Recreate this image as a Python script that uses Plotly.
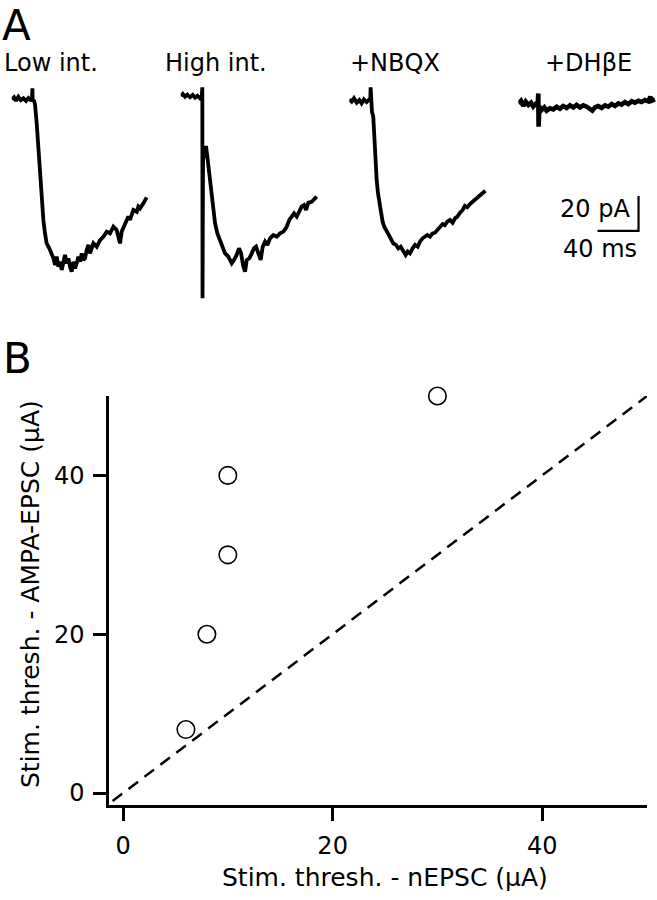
import plotly.graph_objects as go

# ---------------- data ----------------
# Panel A traces: time (ms) and current (pA)
LOW_T = [0, 2.3, 4.2, 6.5, 8.8, 11.4, 14.0, 16.3, 18.5, 19.8, 20.2, 20.5, 21.8, 22.8, 24.4, 26.0, 27.6, 29.3, 30.9, 32.5, 34.1,
         36.7, 39.0, 40.7, 42.3, 43.9, 45.5, 47.2, 48.8, 50.4, 52.0, 53.7, 55.3, 56.9, 58.5, 60.2, 61.8, 63.4, 65.0,
         66.7, 68.3, 69.9, 71.5, 73.2, 74.8, 76.4, 78.0, 79.7, 82.9, 86.2, 89.4, 92.7, 95.9, 99.2, 102.4, 104.1, 105.7,
         107.3, 108.9, 112.2, 113.8, 115.4, 117.1, 118.7, 122.0, 123.6, 125.2, 126.8, 128.5, 131.7]
LOW_I = [-0.2, 1.0, -1.0, 1.3, -0.6, 0.4, -1.1, 0.6, -0.6, -0.6, 6.1, -1.5, -0.6, -3.4, -13.9, -29.1, -44.4, -57.7, -69.1, -76.8, -82.5,
         -85.3, -88.2, -91.0, -94.9, -90.1, -95.8, -93.0, -97.7, -92.0, -89.1, -93.9, -91.0, -95.8, -98.7, -93.0, -96.8, -93.9, -90.1,
         -93.0, -88.2, -92.0, -91.0, -86.3, -83.4, -88.2, -85.3, -82.5, -84.4, -80.6, -78.7, -75.8, -76.8, -73.0, -74.9, -78.7, -82.5,
         -75.8, -73.9, -69.1, -67.2, -69.1, -65.3, -63.4, -64.4, -61.5, -62.5, -60.6, -59.6, -56.2]

HIGH_T = [0, 2.0, 4.2, 6.5, 9.1, 11.7, 14.0, 16.3, 18.9, 20.5, 21.1, 21.3, 21.8, 23.1, 24.7, 26.0, 27.6, 29.3, 31.2, 33.5,
          35.8, 38.4, 41.0, 43.3, 46.5, 49.8, 52.0, 54.6, 56.9, 58.9, 61.1, 62.8, 64.4, 67.0, 69.3, 71.5, 73.5, 75.8, 78.0, 80.0,
          82.3, 84.6, 87.2, 90.4, 93.7, 96.9, 100.2, 103.4, 106.0, 108.3, 110.6, 113.2, 115.8, 118.0, 120.3, 122.3, 124.6, 127.8,
          130.1, 132.7]
HIGH_I = [1.7, 2.9, 1.3, 2.5, 1.0, 2.3, 0.8, 1.9, 0.4, 1.3, 6.7, -113.9, -34.9, -30.1, -26.9, -33.0, -40.6, -50.1, -61.5, -71.0,
          -76.8, -80.6, -85.3, -88.2, -90.1, -93.9, -92.0, -89.1, -85.3, -88.2, -95.8, -98.7, -92.0, -91.0, -88.2, -85.3, -84.4,
          -89.1, -92.0, -84.4, -81.5, -83.4, -79.6, -77.7, -78.7, -76.8, -75.8, -73.0, -69.1, -67.2, -65.3, -67.2, -64.4, -61.5,
          -60.6, -63.4, -59.2, -58.7, -57.3, -55.8]

NBQX_T = [0, 2.3, 4.6, 7.2, 9.8, 12.0, 14.3, 16.9, 19.5, 20.5, 20.8, 21.1, 22.1, 23.4, 24.4, 25.4, 26.7, 28.0, 29.3, 30.9,
          32.5, 34.1, 36.4, 38.0, 40.3, 42.9, 45.5, 47.8, 50.1, 52.7, 55.0, 56.9, 59.2, 61.8, 64.1, 66.7, 68.9, 71.5, 73.8, 76.1,
          78.7, 81.3, 83.6, 85.9, 88.5, 91.1, 93.3, 95.6, 98.2, 100.8, 103.1, 105.4, 108.0, 110.6, 112.8, 115.1, 117.7, 120.3,
          122.6, 124.9, 127.5, 130.1, 132.7]
NBQX_I = [-0.2, -1.5, 0.4, -2.1, -0.6, -2.5, -0.2, -1.7, -0.2, -0.6, 6.7, -4.4, -7.2, -10.1, -23.4, -36.8, -46.3, -53.9, -59.6,
          -65.3, -70.1, -73.0, -74.9, -77.1, -79.6, -82.5, -83.4, -85.3, -84.4, -87.2, -89.1, -87.2, -88.2, -85.3, -83.4, -84.4,
          -81.5, -79.6, -78.7, -77.7, -78.7, -76.8, -76.4, -74.9, -73.9, -71.4, -72.0, -70.1, -69.1, -70.7, -68.2, -67.2, -65.0,
          -63.4, -61.1, -61.9, -60.0, -58.7, -57.7, -56.2, -55.4, -53.9, -52.4]

DHBE_T = [0, 2.6, 4.9, 7.2, 9.8, 12.4, 14.6, 16.9, 18.9, 19.5, 19.8, 20.5, 22.8, 25.4, 27.6, 30.9, 34.1, 37.4, 40.7, 43.9,
          47.2, 50.4, 53.7, 56.9, 60.2, 63.4, 66.7, 69.9, 72.2, 74.8, 78.0, 81.3, 84.6, 87.8, 91.1, 94.3, 97.6, 100.8, 104.1,
          107.3, 110.6, 113.8, 117.1, 120.3, 123.6, 126.8, 128.8, 130.1, 133.3]
DHBE_I = [-2.5, -1.0, -4.0, -1.5, -3.4, -2.1, -4.4, -2.9, -3.4, 3.2, -15.8, -4.4, -6.3, -4.8, -6.7, -5.3, -5.9, -4.4, -5.5, -4.0,
          -5.1, -3.6, -4.8, -3.4, -4.8, -3.6, -4.4, -5.9, -6.7, -4.8, -4.0, -5.1, -3.6, -4.4, -2.9, -4.0, -2.5, -3.2, -1.7,
          -2.9, -1.3, -2.1, -1.0, -1.7, -0.6, -1.3, 1.3, -1.0, -0.2]

TRACE_LABELS = ["Low int.", "High int.", "+NBQX", "+DH\u03b2E"]
SCALE_PA = 20
SCALE_MS = 40

# Panel B: stimulation thresholds (µA)
NEPSC = [6, 8, 10, 10, 30]
AMPA = [8, 20, 30, 40, 50]
DIAG = [-1, 50]
X_TICKS = [0, 20, 40]
Y_TICKS = [0, 20, 40]

# ---------------- layout helpers ----------------
W, H = 657, 900
FONT = "DejaVu Sans"


def fx(px):
    return px / W


def fy(py):
    return 1 - py / H


fig = go.Figure()

# ---- Panel A: four traces, each on its own x axis, shared y scale ----
traces = [(LOW_T, LOW_I), (HIGH_T, HIGH_I), (NBQX_T, NBQX_I), (DHBE_T, DHBE_I)]
starts_px = [11.7, 180.7, 349.3, 518.3]
px_per_ms = 1.025
t_range = [0, 135]
i_range = [-125, 10]
px_per_pa = 1.75
base_py = 99
y_dom = [fy(base_py - i_range[0] * px_per_pa), fy(base_py - i_range[1] * px_per_pa)]
widths = [3.8, 3.8, 3.8, 4.6]

for k, ((t, cur), x0) in enumerate(zip(traces, starts_px)):
    n = k + 2
    fig.add_trace(go.Scatter(x=t, y=cur, mode="lines", xaxis=f"x{n}", yaxis="y2",
                             line=dict(color="black", width=widths[k]), showlegend=False,
                             hoverinfo="skip", cliponaxis=False))
    fig.update_layout(**{
        f"xaxis{n}": dict(domain=[fx(x0), fx(x0 + (t_range[1] - t_range[0]) * px_per_ms)], range=t_range,
                          anchor="y2", visible=False, fixedrange=True, automargin=False)
    })

fig.update_layout(yaxis2=dict(domain=y_dom, range=i_range, anchor="x2", visible=False,
                              fixedrange=True, automargin=False))

# scale bar in last trace axis
sb_t_end = 117.3
sb_i_base = -75.4
fig.add_trace(go.Scatter(x=[sb_t_end - SCALE_MS, sb_t_end, sb_t_end],
                         y=[sb_i_base, sb_i_base, sb_i_base + SCALE_PA],
                         mode="lines", xaxis="x5", yaxis="y2",
                         line=dict(color="black", width=2.2), showlegend=False, hoverinfo="skip"))

# ---- Panel B: scatter ----
fig.add_trace(go.Scatter(x=DIAG, y=DIAG, mode="lines",
                         line=dict(color="black", width=2.5, dash="12px,8px"),
                         showlegend=False, hoverinfo="skip"))
fig.add_trace(go.Scatter(x=NEPSC, y=AMPA, mode="markers", cliponaxis=False,
                         marker=dict(symbol="circle", size=17.5, color="white",
                                     line=dict(color="black", width=1.6)),
                         showlegend=False))

axis_common = dict(showline=True, linecolor="black", linewidth=2.5, ticks="outside",
                   tickcolor="black", tickwidth=2.5, ticklen=13, showgrid=False, zeroline=False,
                   tickfont=dict(family=FONT, size=24, color="black"), fixedrange=True,
                   automargin=False)

fig.update_layout(
    xaxis=dict(domain=[fx(109), fx(647)], range=[-1.34, 50], tickvals=X_TICKS, anchor="y",
               ticklabelstandoff=4, **axis_common),
    yaxis=dict(domain=[fy(805), fy(396)], range=[-1.5, 50], tickvals=Y_TICKS, anchor="x",
               ticklabelstandoff=4, **axis_common),
)

annotations = []
# trace labels
label_x = [2, 163, 348, 543]
for lx, txt in zip(label_x, TRACE_LABELS):
    annotations.append(dict(text=txt, x=fx(lx), y=fy(63), xref="paper", yref="paper",
                            xanchor="left", yanchor="middle", showarrow=False,
                            font=dict(family=FONT, size=24, color="black")))
# scale bar labels
annotations.append(dict(text=f"{SCALE_PA} pA", x=fx(632), y=fy(209), xref="paper", yref="paper",
                        xanchor="right", yanchor="middle", showarrow=False,
                        font=dict(family=FONT, size=24, color="black")))
annotations.append(dict(text=f"{SCALE_MS} ms", x=fx(561), y=fy(249), xref="paper", yref="paper",
                        xanchor="left", yanchor="middle", showarrow=False,
                        font=dict(family=FONT, size=24, color="black")))
# panel letters
annotations.append(dict(text="A", x=fx(1), y=1, xref="paper", yref="paper",
                        xanchor="left", yanchor="top", showarrow=False, borderpad=0,
                        font=dict(family=FONT, size=42, color="black")))
annotations.append(dict(text="B", x=fx(1), y=fy(359), xref="paper", yref="paper",
                        xanchor="left", yanchor="middle", showarrow=False,
                        font=dict(family=FONT, size=42, color="black")))
# axis titles
annotations.append(dict(text="Stim. thresh. - nEPSC (\u03bcA)", x=fx(385), y=fy(877), xref="paper", yref="paper",
                        xanchor="center", yanchor="middle", showarrow=False,
                        font=dict(family=FONT, size=25, color="black")))
annotations.append(dict(text="Stim. thresh. - AMPA-EPSC (\u03bcA)", x=fx(30), y=fy(594), xref="paper", yref="paper",
                        xanchor="center", yanchor="middle", showarrow=False, textangle=-90,
                        font=dict(family=FONT, size=25, color="black")))

fig.update_layout(
    width=W, height=H,
    margin=dict(l=0, r=0, t=0, b=0, pad=0),
    paper_bgcolor="white", plot_bgcolor="white",
    annotations=annotations,
    font=dict(family=FONT, color="black"),
)

fig.write_html("out.html", config={"displayModeBar": False},
               post_script="document.body.style.margin='0px';document.body.style.padding='0px';"
                           "document.documentElement.style.overflow='hidden';")
